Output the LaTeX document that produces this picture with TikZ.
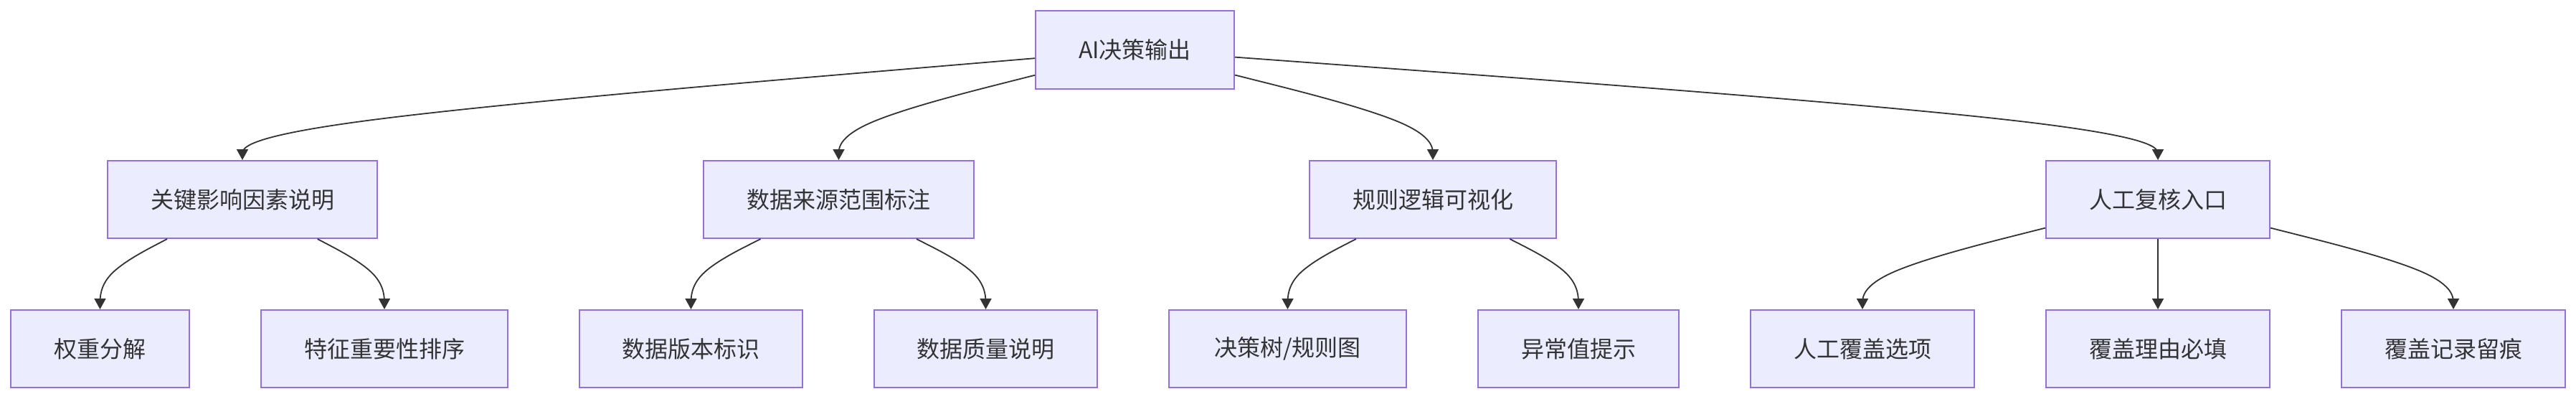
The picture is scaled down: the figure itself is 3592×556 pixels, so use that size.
\documentclass[tikz,border=0pt]{standalone}
\usepackage{fontspec}
\newfontfamily\cjk{Noto Sans CJK SC}
\usetikzlibrary{calc,arrows.meta}
\definecolor{nodefill}{HTML}{ECECFF}
\definecolor{nodeborder}{HTML}{9370DB}
\definecolor{textc}{HTML}{333333}
\definecolor{linec}{HTML}{333333}
\tikzset{
  box/.style={draw=nodeborder, fill=nodefill, line width=1pt, text=textc,
    font=\cjk\fontsize{16pt}{20pt}\selectfont, inner sep=0pt, minimum height=54pt},
  conn/.style={draw=linec, line width=0.9pt, -{Triangle[length=7.5pt,width=8pt]}}
}
\newcommand{\bedge}[3]{%
  \path (#1) -- (#2) coordinate[pos=0] (bs);
  \coordinate (be) at (#3.north);
  \draw[conn] (bs) -- ($(bs)!1/6!(#2)$)
    .. controls ($(bs)!1/3!(#2)$) and ($(bs)!2/3!(#2)$) .. ($(#2)!1/3!($(bs)!0.5!(be)$)$)
    .. controls ($(#2)!1/3!(be)$) and ($(#2)!2/3!(be)$) .. ($(#2)!5/6!(be)$) -- (be);
}
\begin{document}
\begin{tikzpicture}[x=0.5pt,y=-0.5pt]
\fill[white] (0,0) rectangle (3592,556);
\useasboundingbox (0,0) rectangle (3592,556);
% top
\node[box, minimum width=138.5pt, minimum height=54.5pt] (top) at (1582.5,69.5) {AI决策输出};
% row 2
\node[box, minimum width=188pt] (k1) at (338,278) {关键影响因素说明};
\node[box, minimum width=188.5pt] (k2) at (1169.5,278) {数据来源范围标注};
\node[box, minimum width=172pt] (k3) at (1998,278) {规则逻辑可视化};
\node[box, minimum width=156pt] (k4) at (3009,278) {人工复核入口};
% row 3
\node[box, minimum width=124.5pt] (a1) at (139.5,486) {权重分解};
\node[box, minimum width=172pt] (a2) at (536,486) {特征重要性排序};
\node[box, minimum width=155.5pt] (b1) at (963.5,486) {数据版本标识};
\node[box, minimum width=155.5pt] (b2) at (1374.5,486) {数据质量说明};
\node[box, minimum width=165.5pt] (c1) at (1795.5,486) {决策树/规则图};
\node[box, minimum width=140pt] (c2) at (2201,486) {异常值提示};
\node[box, minimum width=156pt] (e1) at (2597,486) {人工覆盖选项};
\node[box, minimum width=156pt] (e2) at (3009,486) {覆盖理由必填};
\node[box, minimum width=156pt] (e3) at (3421,486) {覆盖记录留痕};
% dummy routing points
\coordinate (dk1) at (338,174);
\coordinate (dk2) at (1169.5,174);
\coordinate (dk3) at (1998,174);
\coordinate (dk4) at (3009,174);
\coordinate (da1) at (139.5,382);
\coordinate (da2) at (536,382);
\coordinate (db1) at (963.5,382);
\coordinate (db2) at (1374.5,382);
\coordinate (dc1) at (1795.5,382);
\coordinate (dc2) at (2201,382);
\coordinate (de1) at (2597,382);
\coordinate (de2) at (3009,382);
\coordinate (de3) at (3421,382);
% edges
\bedge{top}{dk1}{k1}
\bedge{top}{dk2}{k2}
\bedge{top}{dk3}{k3}
\bedge{top}{dk4}{k4}
\bedge{k1}{da1}{a1}
\bedge{k1}{da2}{a2}
\bedge{k2}{db1}{b1}
\bedge{k2}{db2}{b2}
\bedge{k3}{dc1}{c1}
\bedge{k3}{dc2}{c2}
\bedge{k4}{de1}{e1}
\bedge{k4}{de2}{e2}
\bedge{k4}{de3}{e3}
\end{tikzpicture}
\end{document}
